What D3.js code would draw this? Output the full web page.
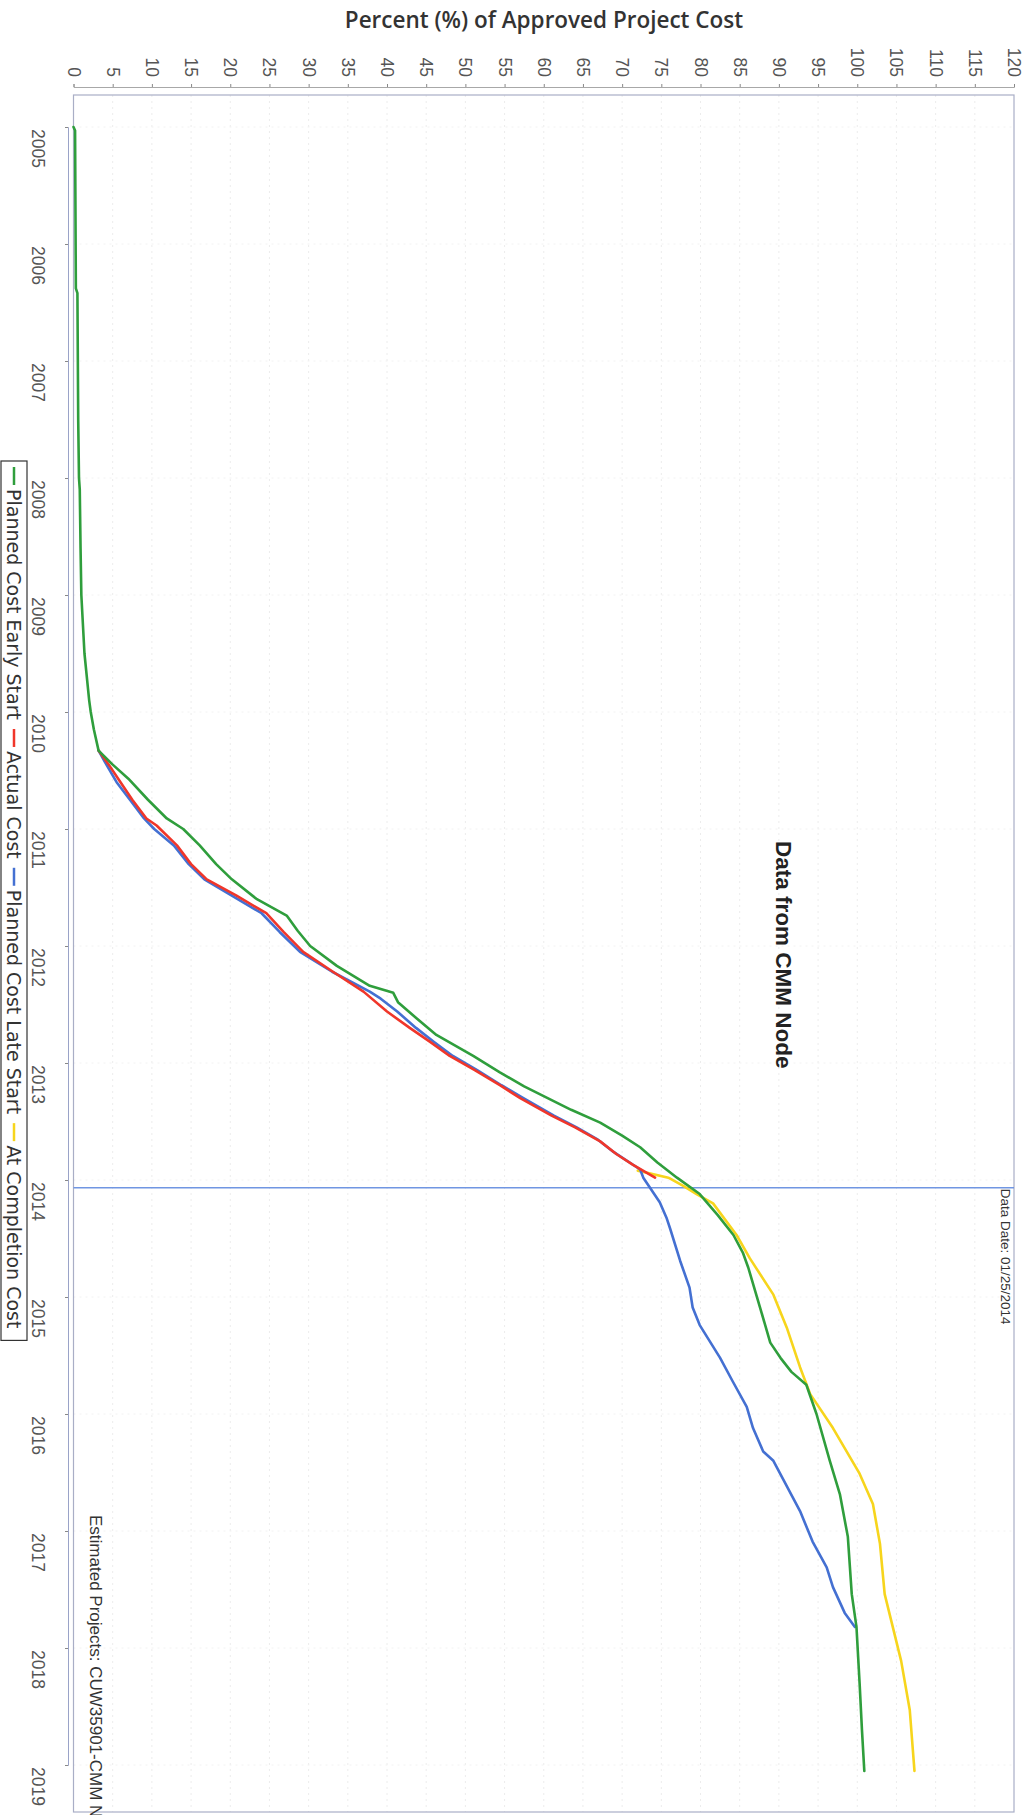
<!DOCTYPE html>
<html><head><meta charset="utf-8">
<script src="https://cdn.jsdelivr.net/npm/d3@7"></script>
<style>body{margin:0;background:#fff}</style>
</head><body><svg id="c" width="1029" height="1815"></svg>
<script>
// ---------- data ----------
const pctTicks = d3.range(0, 121, 5);
const yearTicks = d3.range(2005, 2020);
const dataDate = 2014 + 24/365;

const seriesNames = ["Planned Cost Early Start", "Actual Cost", "Planned Cost Late Start", "At Completion Cost"];
const seriesColors = ["#2f9e3c", "#f0362a", "#4470d2", "#f7d51c"];

const earlyYears = [2005.0, 2005.03, 2006.38, 2006.42, 2007.5, 2008.0, 2008.1, 2008.6, 2009.0, 2009.5, 2009.9, 2010.0, 2010.15, 2010.33, 2010.45, 2010.57, 2010.75, 2010.91, 2011.0, 2011.14, 2011.3, 2011.43, 2011.6, 2011.74, 2011.87, 2012.0, 2012.17, 2012.34, 2012.4, 2012.48, 2012.62, 2012.76, 2012.94, 2013.08, 2013.2, 2013.3, 2013.4, 2013.51, 2013.62, 2013.72, 2013.85, 2013.98, 2014.12, 2014.3, 2014.47, 2014.62, 2014.75, 2015.09, 2015.39, 2015.52, 2015.64, 2015.75, 2016.0, 2016.4, 2016.69, 2017.05, 2017.54, 2017.82, 2018.3, 2018.7, 2019.05];
const earlyVals  = [0, 0.2, 0.3, 0.5, 0.6, 0.7, 0.8, 0.9, 1.0, 1.4, 2.0, 2.2, 2.6, 3.2, 5.0, 7.0, 9.5, 11.9, 14.0, 16.1, 18.2, 20.2, 23.4, 27.2, 28.6, 30.2, 33.6, 37.8, 40.8, 41.4, 43.8, 46.3, 51.0, 54.4, 57.5, 60.5, 63.5, 67.2, 70.0, 72.3, 74.5, 77.0, 79.9, 82.2, 84.2, 85.4, 86.1, 87.6, 88.9, 90.2, 91.6, 93.5, 94.8, 96.5, 97.8, 98.8, 99.3, 99.9, 100.3, 100.6, 100.9];

const actualYears = [2010.33, 2010.45, 2010.57, 2010.75, 2010.91, 2010.97, 2011.14, 2011.3, 2011.43, 2011.57, 2011.72, 2011.88, 2012.05, 2012.22, 2012.39, 2012.56, 2012.7, 2012.82, 2012.94, 2013.06, 2013.19, 2013.3, 2013.45, 2013.55, 2013.67, 2013.78, 2013.87, 2013.98];
const actualVals  = [3.2, 4.5, 5.7, 7.5, 9.3, 10.6, 13.2, 15.0, 17.0, 20.8, 24.6, 26.8, 29.3, 33.1, 37.0, 40.0, 42.9, 45.5, 48.0, 51.2, 54.4, 57.0, 61.0, 64.0, 67.2, 69.3, 71.4, 74.2];

const lateYears = [2010.33, 2010.45, 2010.6, 2010.75, 2010.91, 2011.0, 2011.14, 2011.3, 2011.43, 2011.57, 2011.72, 2011.88, 2012.05, 2012.22, 2012.39, 2012.45, 2012.56, 2012.7, 2012.82, 2012.94, 2013.06, 2013.19, 2013.3, 2013.45, 2013.55, 2013.65, 2013.76, 2013.91, 2013.98, 2014.19, 2014.33, 2014.41, 2014.69, 2014.92, 2015.09, 2015.24, 2015.52, 2015.72, 2015.94, 2016.12, 2016.32, 2016.4, 2016.83, 2017.09, 2017.31, 2017.48, 2017.7, 2017.82];
const lateVals  = [3.2, 4.2, 5.5, 7.2, 9.0, 10.3, 12.8, 14.7, 16.7, 20.2, 24.0, 26.3, 28.9, 33.0, 37.8, 39.2, 41.3, 43.7, 46.0, 48.4, 51.5, 54.6, 57.4, 61.3, 64.2, 66.8, 68.9, 72.3, 72.7, 74.8, 75.7, 76.1, 77.4, 78.6, 79.0, 79.9, 82.5, 84.1, 85.9, 86.7, 88.0, 89.3, 92.7, 94.3, 96.1, 96.9, 98.4, 99.7];

const eacYears = [2013.92, 2013.98, 2014.05, 2014.12, 2014.2, 2014.47, 2014.67, 2014.98, 2015.26, 2015.6, 2015.83, 2016.12, 2016.51, 2016.77, 2017.11, 2017.54, 2018.11, 2018.53, 2019.05];
const eacVals  = [72.0, 75.9, 77.8, 79.5, 81.6, 84.6, 86.3, 89.3, 91.0, 92.7, 94.0, 96.9, 100.3, 102.0, 102.9, 103.5, 105.6, 106.7, 107.3];

const titleText = "Percent (%) of Approved Project Cost";
const noteText = "Data from CMM Node";
const dataDateText = "Data Date: 01/25/2014";
const footerText = "Estimated Projects: CUW35901-CMM Node";

// ---------- layout ----------
const svg = d3.select('#c');
const plot = {left: 73.5, right: 1014, top: 95, bottom: 1812};
const x = d3.scaleLinear().domain([0, 120]).range([plot.left, plot.right]);
const y = d3.scaleLinear().domain([2005, 2019]).range([127, 1765]);

// grid
const grid = svg.append('g');
grid.selectAll('line.v').data(pctTicks.slice(1, -1)).join('line')
  .attr('x1', d => x(d)).attr('x2', d => x(d)).attr('y1', plot.top).attr('y2', plot.bottom)
  .attr('stroke', '#ececec').attr('stroke-dasharray', '2,4');
grid.selectAll('line.h').data(yearTicks).join('line')
  .attr('y1', d => y(d)).attr('y2', d => y(d)).attr('x1', plot.left).attr('x2', plot.right)
  .attr('stroke', '#f2f2f2').attr('stroke-dasharray', '2,4');

// plot border
svg.append('rect').attr('x', plot.left).attr('y', plot.top)
  .attr('width', plot.right - plot.left).attr('height', plot.bottom - plot.top)
  .attr('fill', 'none').attr('stroke', '#a9aec6').attr('stroke-width', 1.2);

// top (percent) axis
const topAxis = svg.append('g').attr('transform', 'translate(0,87)')
  .call(d3.axisTop(x).tickValues(pctTicks).tickSize(3).tickFormat(''));
topAxis.select('.domain').attr('stroke', '#a8a8a8');
topAxis.selectAll('.tick line').attr('stroke', '#888');
svg.append('g').selectAll('text').data(pctTicks).join('text')
  .attr('transform', d => `translate(${x(d)},77) rotate(90)`)
  .attr('text-anchor', 'end').attr('dominant-baseline', 'central')
  .attr('font-family', 'Liberation Sans, Arial, sans-serif').attr('font-size', 17.5)
  .attr('fill', '#555').text(d => d);

// left (year) axis
const leftAxis = svg.append('g').attr('transform', 'translate(68,0)')
  .call(d3.axisLeft(y).tickValues(yearTicks).tickSize(3).tickFormat(''));
leftAxis.select('.domain').attr('stroke', '#9aa3c8');
leftAxis.selectAll('.tick line').attr('stroke', '#888');
svg.append('g').selectAll('text').data(yearTicks).join('text')
  .attr('transform', d => `translate(38,${y(d) + 2}) rotate(90)`)
  .attr('text-anchor', 'start').attr('dominant-baseline', 'central')
  .attr('font-family', 'Liberation Sans, Arial, sans-serif').attr('font-size', 17.5)
  .attr('fill', '#555').text(d => d);

// title
svg.append('text').attr('x', 544).attr('y', 28).attr('text-anchor', 'middle')
  .attr('font-family', 'Open Sans, sans-serif').attr('font-weight', 600).attr('font-size', 22.5)
  .attr('fill', '#333').text(titleText);

// data date line
svg.append('line').attr('x1', plot.left).attr('x2', plot.right)
  .attr('y1', y(dataDate)).attr('y2', y(dataDate))
  .attr('stroke', '#7096e2').attr('stroke-width', 1.6);
svg.append('text').attr('transform', `translate(1005,${y(dataDate) + 1}) rotate(90)`)
  .attr('dominant-baseline', 'central')
  .attr('font-family', 'Liberation Sans, Arial, sans-serif').attr('font-size', 13.5)
  .attr('fill', '#333').text(dataDateText);

// note text
svg.append('text').attr('transform', `translate(783,841) rotate(90)`)
  .attr('dominant-baseline', 'central')
  .attr('font-family', 'Liberation Sans, Arial, sans-serif').attr('font-weight', 'bold').attr('font-size', 22.5)
  .attr('fill', '#222').text(noteText);

// footer text
svg.append('text').attr('transform', `translate(95,1515) rotate(90)`)
  .attr('dominant-baseline', 'central')
  .attr('font-family', 'Liberation Sans, Arial, sans-serif').attr('font-size', 17)
  .attr('fill', '#333').text(footerText);

// lines
const line = d3.line().x(d => x(d.v)).y(d => y(d.t));
const zip = (ts, vs) => ts.map((t, i) => ({t, v: vs[i]}));
const series = [
  {data: zip(eacYears, eacVals), color: seriesColors[3]},
  {data: zip(lateYears, lateVals), color: seriesColors[2]},
  {data: zip(actualYears, actualVals), color: seriesColors[1]},
  {data: zip(earlyYears, earlyVals), color: seriesColors[0]}
];
svg.append('g').selectAll('path').data(series).join('path')
  .attr('d', d => line(d.data)).attr('fill', 'none')
  .attr('stroke', d => d.color).attr('stroke-width', 2.6)
  .attr('stroke-linejoin', 'round').attr('stroke-linecap', 'round');

// legend (rotated) — font sized so the row reaches the target length
const legStart = 461, legEnd = 1349;
const leg = svg.append('g').attr('transform', `translate(14,${legStart}) rotate(90)`);
const texts = seriesNames.map(name => leg.append('text').attr('y', 0).attr('dominant-baseline', 'central')
  .attr('font-family', 'DejaVu Sans, sans-serif').attr('font-size', 16).attr('fill', '#333').text(name));
const natural = d3.sum(texts, t => t.node().getComputedTextLength());
const fixed = 6 + seriesNames.length * 22 + (seriesNames.length - 1) * 9 + 6;
const legFont = Math.min(19, 16 * (legEnd - legStart - fixed) / natural);
let pos = 6;
seriesNames.forEach((name, i) => {
  leg.append('line').attr('x1', pos).attr('x2', pos + 18).attr('y1', 0).attr('y2', 0)
    .attr('stroke', seriesColors[i]).attr('stroke-width', 2.5);
  pos += 22;
  texts[i].attr('x', pos).attr('font-size', legFont);
  pos += texts[i].node().getComputedTextLength() + 9;
});
leg.insert('rect', ':first-child').attr('x', 0).attr('y', -13).attr('width', pos + 3).attr('height', 26)
  .attr('fill', '#fff').attr('stroke', '#333').attr('stroke-width', 1.2);
</script></body></html>
